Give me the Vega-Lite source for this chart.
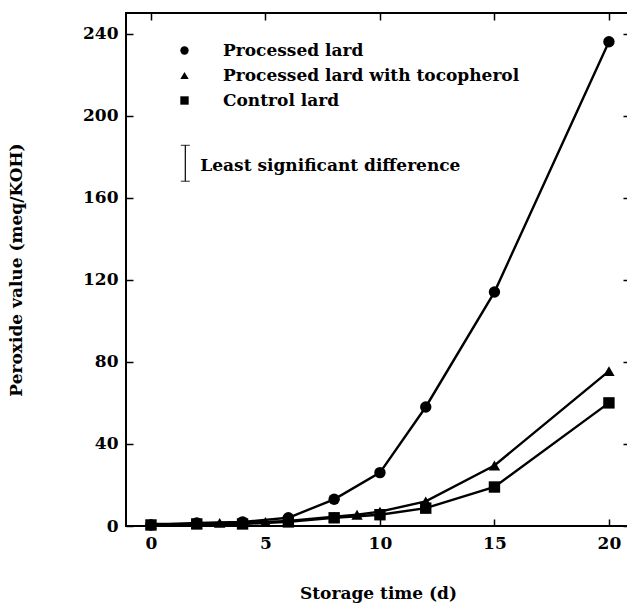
{
  "$schema": "https://vega.github.io/schema/vega-lite/v6.json",
  "width": 504,
  "height": 513,
  "autosize": "none",
  "padding": {"left": 126, "top": 13, "right": 0, "bottom": 77},
  "background": "white",
  "config": {
    "font": "DejaVu Serif",
    "view": {"stroke": "black", "strokeWidth": 2},
    "axis": {
      "domain": false,
      "grid": false,
      "tickColor": "black",
      "tickWidth": 1.5,
      "tickSize": -7,
      "labelColor": "black",
      "labelFont": "DejaVu Serif",
      "labelFontWeight": "bold",
      "labelFontSize": 17,
      "titleColor": "black",
      "titleFont": "DejaVu Serif",
      "titleFontWeight": "bold",
      "titleFontSize": 17
    }
  },
  "datasets": {
    "series": [
      {"series": "Processed lard", "day": 0, "pv": 0.5},
      {"series": "Processed lard", "day": 2, "pv": 1.5},
      {"series": "Processed lard", "day": 4, "pv": 2},
      {"series": "Processed lard", "day": 6, "pv": 4},
      {"series": "Processed lard", "day": 8, "pv": 13},
      {"series": "Processed lard", "day": 10, "pv": 26},
      {"series": "Processed lard", "day": 12, "pv": 58},
      {"series": "Processed lard", "day": 15, "pv": 114},
      {"series": "Processed lard", "day": 20, "pv": 236},
      {"series": "Processed lard with tocopherol", "day": 0, "pv": 1},
      {"series": "Processed lard with tocopherol", "day": 2, "pv": 1},
      {"series": "Processed lard with tocopherol", "day": 3, "pv": 1.5},
      {"series": "Processed lard with tocopherol", "day": 4, "pv": 1.5},
      {"series": "Processed lard with tocopherol", "day": 5, "pv": 2},
      {"series": "Processed lard with tocopherol", "day": 6, "pv": 2.5},
      {"series": "Processed lard with tocopherol", "day": 8, "pv": 4.5},
      {"series": "Processed lard with tocopherol", "day": 9, "pv": 5.5},
      {"series": "Processed lard with tocopherol", "day": 10, "pv": 7},
      {"series": "Processed lard with tocopherol", "day": 12, "pv": 12},
      {"series": "Processed lard with tocopherol", "day": 15, "pv": 29.5},
      {"series": "Processed lard with tocopherol", "day": 20, "pv": 75.5},
      {"series": "Control lard", "day": 0, "pv": 0.5},
      {"series": "Control lard", "day": 2, "pv": 1},
      {"series": "Control lard", "day": 4, "pv": 1},
      {"series": "Control lard", "day": 6, "pv": 2},
      {"series": "Control lard", "day": 8, "pv": 4},
      {"series": "Control lard", "day": 10, "pv": 5.5},
      {"series": "Control lard", "day": 12, "pv": 8.7},
      {"series": "Control lard", "day": 15, "pv": 19},
      {"series": "Control lard", "day": 20, "pv": 60}
    ],
    "lsd": [
      {"day": 1.5, "low": 168, "high": 185.5, "mid": 176.75, "label": "Least significant difference"}
    ]
  },
  "resolve": {"axis": {"x": "independent", "y": "independent"}},
  "layer": [
    {
      "data": {"name": "series"},
      "mark": {"type": "line", "color": "black", "strokeWidth": 2.4},
      "encoding": {
        "x": {"field": "day", "type": "quantitative", "scale": {"domain": [-1.09, 20.92], "nice": false, "zero": false},
              "axis": {"orient": "top", "values": [0, 5, 10, 15, 20], "labels": false, "title": null}},
        "y": {"field": "pv", "type": "quantitative", "scale": {"domain": [0, 250], "nice": false},
              "axis": {"orient": "right", "values": [0, 40, 80, 120, 160, 200, 240], "labels": false, "title": null}},
        "detail": {"field": "series"}
      }
    },
    {
      "data": {"name": "series"},
      "mark": {"type": "point", "filled": true, "color": "black", "opacity": 1},
      "encoding": {
        "x": {"field": "day", "type": "quantitative",
              "axis": {"orient": "bottom", "values": [0, 5, 10, 15, 20], "title": "Storage time (d)", "labelPadding": 16, "titlePadding": 34}},
        "y": {"field": "pv", "type": "quantitative",
              "axis": {"orient": "left", "values": [0, 40, 80, 120, 160, 200, 240], "title": "Peroxide value (meq/KOH)", "labelPadding": 15, "titleX": -101}},
        "size": {"value": 130},
        "shape": {
          "field": "series", "type": "nominal",
          "scale": {"domain": ["Processed lard", "Processed lard with tocopherol", "Control lard"], "range": ["circle", "triangle-up", "square"]},
          "legend": {
            "title": null, "orient": "none", "legendX": 50, "legendY": 29,
            "symbolFillColor": "black", "symbolStrokeColor": "black", "symbolSize": 70,
            "labelFont": "DejaVu Serif", "labelFontWeight": "bold", "labelFontSize": 17, "labelColor": "black",
            "labelOffset": 30, "rowPadding": 7, "labelLimit": 400
          }
        }
      }
    },
    {
      "data": {"name": "lsd"},
      "mark": {"type": "rule", "color": "black", "strokeWidth": 1.2},
      "encoding": {
        "x": {"field": "day", "type": "quantitative", "axis": null},
        "y": {"field": "low", "type": "quantitative", "axis": null},
        "y2": {"field": "high"}
      }
    },
    {
      "data": {"name": "lsd"},
      "mark": {"type": "tick", "orient": "horizontal", "color": "black", "size": 9, "thickness": 1.2},
      "encoding": {
        "x": {"field": "day", "type": "quantitative", "axis": null},
        "y": {"field": "low", "type": "quantitative", "axis": null}
      }
    },
    {
      "data": {"name": "lsd"},
      "mark": {"type": "tick", "orient": "horizontal", "color": "black", "size": 9, "thickness": 1.2},
      "encoding": {
        "x": {"field": "day", "type": "quantitative", "axis": null},
        "y": {"field": "high", "type": "quantitative", "axis": null}
      }
    },
    {
      "data": {"name": "lsd"},
      "mark": {"type": "text", "align": "left", "baseline": "middle", "dx": 15, "dy": 3, "font": "DejaVu Serif", "fontWeight": "bold", "fontSize": 17, "color": "black"},
      "encoding": {
        "x": {"field": "day", "type": "quantitative", "axis": null},
        "y": {"field": "mid", "type": "quantitative", "axis": null},
        "text": {"field": "label"}
      }
    }
  ]
}
